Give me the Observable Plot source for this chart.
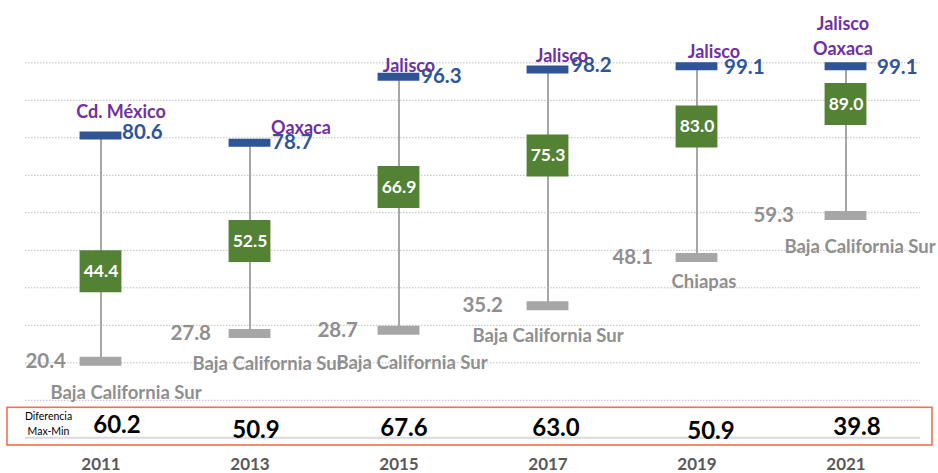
<!DOCTYPE html>
<html>
<head>
<meta charset="utf-8">
<script src="https://cdn.jsdelivr.net/npm/d3@7"></script>
<script src="https://cdn.jsdelivr.net/npm/@observablehq/plot@0.6"></script>
<style>
  html, body { margin: 0; padding: 0; background: #fff; }
  #chart svg { display: block; }
</style>
</head>
<body>
<div id="chart"></div>
<script>
// ---- Data ----
const years = ["2011", "2013", "2015", "2017", "2019", "2021"];
const maxVals = [80.6, 78.7, 96.3, 98.2, 99.1, 99.1];
const maxStates = ["Cd. México", "Oaxaca", "Jalisco", "Jalisco", "Jalisco", "Jalisco\nOaxaca"];
const natVals = [44.4, 52.5, 66.9, 75.3, 83.0, 89.0];
const minVals = [20.4, 27.8, 28.7, 35.2, 48.1, 59.3];
const minStates = ["Baja California Sur", "Baja California Sur", "Baja California Sur", "Baja California Sur", "Chiapas", "Baja California Sur"];
const diffs = [60.2, 50.9, 67.6, 63.0, 50.9, 39.8];
const gridTicks = [10, 20, 30, 40, 50, 60, 70, 80, 90, 100];
const diffLabel = "Diferencia\nMax-Min";

// ---- Layout nudges (label offsets in px) ----
const nudge = [
  {maxDx: 21, maxDy: -3, msDx: 20, msDy: -26, minDx: -35, msnDx: 25, msnDy: 32, dDx: 16, dDy: -12},
  {maxDx: 22, maxDy: 0, msDx: 51, msDy: -17, minDx: -39, msnDx: 18, msnDy: 31, dDx: 6, dDy: -7},
  {maxDx: 22, maxDy: 0, msDx: 10, msDy: -13, minDx: -41, msnDx: 13, msnDy: 33, dDx: 5, dDy: -9},
  {maxDx: 23, maxDy: -4, msDx: 14, msDy: -16, minDx: -45, msnDx: 0, msnDy: 30, dDx: 8, dDy: -9},
  {maxDx: 27, maxDy: 1, msDx: 17, msDy: -16, minDx: -44, msnDx: 7, msnDy: 25, dDx: 14, dDy: -6},
  {maxDx: 31, maxDy: 1, msDx: -3, msDy: -19, minDx: -52, msnDx: 14, msnDy: 32, dDx: 11, dDy: -10}
];

const data = years.map((y, i) => ({
  year: y, max: maxVals[i], maxState: maxStates[i], nat: natVals[i],
  min: minVals[i], minState: minStates[i], diff: diffs[i], n: nudge[i]
}));

const BLUE = "#2F5597", GREEN = "#548235", GRAY = "#A6A6A6", PURPLE = "#7030A0", TXTGRAY = "#8f8f8f";
const bandInset = (938 - 25 - 18) / 6 / 2 - 21;
const stateSize = 18, stateLH = 1.4;

const perYear = [];
for (const d of data) {
  const nLines = d.maxState.split("\n").length;
  perYear.push(
    Plot.text([d], {x: "year", y: "max", text: v => v.max.toFixed(1), textAnchor: "start",
      dx: d.n.maxDx, dy: d.n.maxDy, fill: BLUE, fontSize: 20.5, fontWeight: "bold"}),
    Plot.text([d], {x: "year", y: "max", text: "maxState", lineAnchor: "middle", lineHeight: stateLH,
      dx: d.n.msDx, dy: d.n.msDy - (nLines - 1) * stateLH * stateSize / 2,
      fill: PURPLE, fontSize: stateSize, fontWeight: "bold"}),
    Plot.text([d], {x: "year", y: "min", text: v => v.min.toFixed(1), textAnchor: "end",
      dx: d.n.minDx, dy: 0, fill: TXTGRAY, fontSize: 20.5, fontWeight: "bold"}),
    Plot.text([d], {x: "year", y: "min", text: "minState",
      dx: d.n.msnDx, dy: d.n.msnDy, fill: TXTGRAY, fontSize: 18.5, fontWeight: "bold"}),
    Plot.text([d], {x: "year", y: 0, text: v => v.diff.toFixed(1),
      dx: d.n.dDx, dy: d.n.dDy, fill: "#000", fontSize: 24, fontWeight: "bold"})
  );
}

const chart = Plot.plot({
  width: 938,
  height: 473,
  marginTop: 62.3,
  marginBottom: 35.7,
  marginLeft: 25,
  marginRight: 18,
  style: {fontFamily: "Lato, 'Open Sans', sans-serif", background: "#fff"},
  x: {type: "band", domain: years, padding: 0, axis: null},
  y: {domain: [0, 100], axis: null},
  marks: [
    Plot.ruleY(gridTicks, {stroke: "#bdbdbd", strokeWidth: 1, strokeDasharray: "1.5,1.5"}),
    Plot.ruleY([0], {stroke: "#d9d9d9", strokeWidth: 2}),
    Plot.rect([diffLabel], {y1: -2.05, y2: 8.0, insetLeft: -18, insetRight: -12,
      fill: "none", stroke: "#F4704F", strokeWidth: 1.6}),
    Plot.ruleX(data, {x: "year", y1: "min", y2: "max", stroke: GRAY, strokeWidth: 2}),
    Plot.tickY(data, {x: "year", y: "min", stroke: GRAY, strokeWidth: 9, insetLeft: bandInset, insetRight: bandInset}),
    Plot.tickY(data, {x: "year", y: "max", stroke: BLUE, strokeWidth: 8, insetLeft: bandInset, insetRight: bandInset}),
    Plot.tickY(data, {x: "year", y: "nat", stroke: GREEN, strokeWidth: 42, insetLeft: bandInset, insetRight: bandInset}),
    Plot.text(data, {x: "year", y: "nat", text: v => v.nat.toFixed(1), fill: "#fff", fontSize: 17.5, fontWeight: "bold"}),
    ...perYear,
    Plot.text(data, {x: "year", y: 0, text: "year", dy: 27, fill: "#595959", fontSize: 17, fontWeight: "bold"}),
    Plot.text([diffLabel], {frameAnchor: "left", y: 0, text: d => d, textAnchor: "middle", dx: 23, dy: -15,
      lineHeight: 1.4, fill: "#000", fontSize: 10.5})
  ]
});
document.getElementById("chart").appendChild(chart);
</script>
</body>
</html>
